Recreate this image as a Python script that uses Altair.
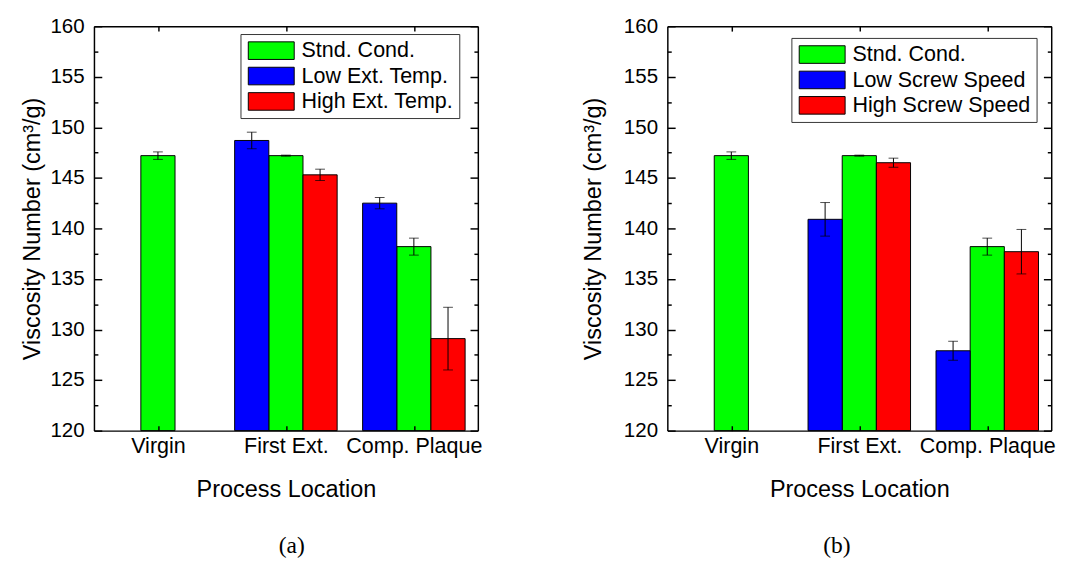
import altair as alt
import pandas as pd

categories = ["Virgin", "First Ext.", "Comp. Plaque"]

series_a = ["Stnd. Cond.", "Low Ext. Temp.", "High Ext. Temp."]
series_b = ["Stnd. Cond.", "Low Screw Speed", "High Screw Speed"]
series_colors = ["#00ff00", "#0000ff", "#ff0000"]
# slot of each series inside a group: Low left, Stnd centre, High right
series_slot = [0, -1, 1]

a_stnd = [147.2, 147.2, 138.2]
a_stnd_err = [0.37, 0.05, 0.84]
a_low = [None, 148.7, 142.5]
a_low_err = [None, 0.82, 0.56]
a_high = [None, 145.3, 129.1]
a_high_err = [None, 0.56, 3.1]

b_stnd = [147.2, 147.2, 138.2]
b_stnd_err = [0.37, 0.05, 0.84]
b_low = [None, 140.9, 127.9]
b_low_err = [None, 1.66, 0.94]
b_high = [None, 146.5, 137.7]
b_high_err = [None, 0.45, 2.2]

y_major = [120, 125, 130, 135, 140, 145, 150, 155, 160]
y_minor = [122.5, 127.5, 132.5, 137.5, 142.5, 147.5, 152.5, 157.5]
x_ticks = [1, 2, 3]

SANS = "Liberation Sans"
SERIF = "Liberation Serif"
BW = 0.267
TICK_COLOR = "black"


def build(series, vals, errs):
    rows = []
    for s, slot, v, e in zip(series, series_slot, vals, errs):
        for i, (cv, ce) in enumerate(zip(v, e)):
            if cv is None:
                continue
            rows.append({"cat": i + 1, "series": s, "slot": slot, "val": cv, "err": ce})
    return pd.DataFrame(rows)


cat_js = "[" + ",".join("'" + c + "'" for c in categories) + "]"


def frame_axis(orient, **kw):
    base = dict(orient=orient, grid=False, ticks=False, domain=True,
                domainColor="black", domainWidth=1.5, zindex=1)
    base.update(kw)
    return alt.Axis(**base)


def tick_axis(orient, values, size):
    # inward pointing ticks: axis pulled inside the plot by its own tick length
    return alt.Axis(orient=orient, values=values, grid=False, domain=False,
                    labels=False, title=None, ticks=True, tickSize=size,
                    offset=-size, tickColor=TICK_COLOR, tickWidth=1.5, zindex=2)


def y_left(title_pad):
    return frame_axis(
        "left", values=y_major, format="d", labels=True,
        labelFont=SANS, labelFontSize=21, labelColor="black", labelPadding=10,
        labelOverlap=False,
        title="Viscosity Number (cm³/g)", titleFont=SANS, titleFontSize=24,
        titleFontWeight="normal", titleColor="black", titlePadding=title_pad)


X_BOTTOM = frame_axis(
    "bottom", values=x_ticks, labels=True,
    labelExpr=f"{cat_js}[datum.value - 1]",
    labelFont=SANS, labelFontSize=22, labelColor="black", labelPadding=5,
    labelFlush=False, labelOverlap=False,
    title="Process Location", titleFont=SANS, titleFontSize=24,
    titleFontWeight="normal", titleColor="black", titlePadding=22)


def panel(df, series, lx, ly, title_pad, caption, cap_dx):
    base = alt.Chart(df).transform_calculate(
        pos=f"datum.cat + datum.slot * {BW}",
        x0=f"datum.cat + datum.slot * {BW} - {BW / 2}",
        x1=f"datum.cat + datum.slot * {BW} + {BW / 2}",
        lo="datum.val - datum.err",
        hi="datum.val + datum.err",
    )
    xs = alt.Scale(domain=[0.5, 3.5], nice=False, zero=False)
    ys = alt.Scale(domain=[120, 160], nice=False, zero=False)
    legend = alt.Legend(
        orient="none", legendX=lx, legendY=ly, title=None, direction="vertical",
        symbolType="M-2.611,-1H2.611V1H-2.611Z", symbolSize=324,
        symbolOffset=14.5, labelOffset=20,
        symbolStrokeColor="black", symbolStrokeWidth=1, symbolOpacity=1,
        labelFont=SANS, labelFontSize=22, labelColor="black",
        labelLimit=400, rowPadding=4, padding=6,
        strokeColor="#333333", fillColor="white",
    )
    bars = base.mark_bar(stroke="black", strokeWidth=1, opacity=1).encode(
        x=alt.X("x0:Q", scale=xs, axis=X_BOTTOM),
        x2="x1:Q",
        y=alt.Y("val:Q", scale=ys, axis=y_left(title_pad)),
        y2=alt.datum(120),
        color=alt.Color("series:N", scale=alt.Scale(domain=series, range=series_colors),
                        legend=legend),
    )
    rules = base.mark_rule(color="black", strokeWidth=1).encode(
        x=alt.X("pos:Q", scale=xs, axis=frame_axis("top", labels=False, title=None)),
        y=alt.Y("lo:Q", scale=ys, axis=frame_axis("right", labels=False, title=None)),
        y2="hi:Q",
    )
    cap_hi = base.mark_tick(color="black", orient="horizontal", size=10, thickness=1).encode(
        x=alt.X("pos:Q", scale=xs, axis=tick_axis("bottom", x_ticks, 5)),
        y=alt.Y("hi:Q", scale=ys, axis=tick_axis("left", y_major, 8)),
    )
    cap_lo = base.mark_tick(color="black", orient="horizontal", size=10, thickness=1).encode(
        x=alt.X("pos:Q", scale=xs, axis=tick_axis("top", x_ticks, 5)),
        y=alt.Y("lo:Q", scale=ys, axis=tick_axis("right", y_major, 8)),
    )
    minor_l = base.mark_tick(opacity=0).encode(
        x=alt.X("pos:Q", scale=xs, axis=None),
        y=alt.Y("val:Q", scale=ys, axis=tick_axis("left", y_minor, 4)),
    )
    minor_r = base.mark_tick(opacity=0).encode(
        x=alt.X("pos:Q", scale=xs, axis=None),
        y=alt.Y("val:Q", scale=ys, axis=tick_axis("right", y_minor, 4)),
    )
    return alt.layer(bars, rules, cap_hi, cap_lo, minor_l, minor_r).resolve_axis(
        x="independent", y="independent"
    ).properties(
        width=393, height=414,
        title=alt.TitleParams(text=caption, orient="bottom", anchor="middle",
                              font=SERIF, fontSize=24, fontWeight="normal",
                              color="black", offset=34, dx=cap_dx),
    )


df_a = build(series_a, [a_stnd, a_low, a_high], [a_stnd_err, a_low_err, a_high_err])
df_b = build(series_b, [b_stnd, b_low, b_high], [b_stnd_err, b_low_err, b_high_err])

pa = panel(df_a, series_a, 150, 8, 6, "(a)", 6)
pb = panel(df_b, series_b, 127, 12, 18, "(b)", -23)

chart = alt.hconcat(pa, pb, spacing=194, bounds="flush").resolve_scale(
    color="independent"
).configure_view(stroke=None).properties(
    padding={"left": 12, "top": 1, "right": 5, "bottom": 5},
    background="white",
)

chart.save("out.html", embed_options={"renderer": "svg", "actions": False})
